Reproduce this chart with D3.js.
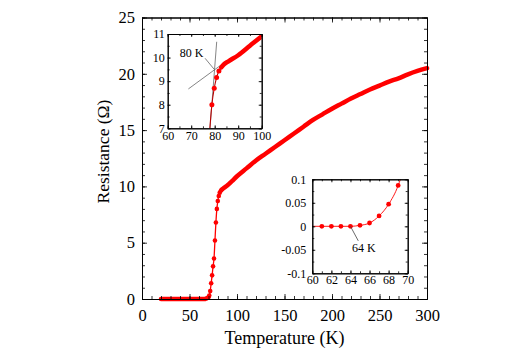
<!DOCTYPE html>
<html>
<head>
<meta charset="utf-8">
<script src="https://cdn.jsdelivr.net/npm/d3@7"></script>
<style>
  body { margin: 0; background: #fff; }
  svg text { font-family: "Liberation Serif", "Times New Roman", serif; fill: #000; }
</style>
</head>
<body>
<div id="viz"></div>
<script>
// R(T) data
var tempK = [20, 30, 40, 50, 58, 61, 62, 63, 64, 65, 66, 67, 68, 69, 70,
  70.8, 71.8, 72.8, 73.8, 74.8, 75.8, 76.8, 77.8, 78.8, 79.8, 80.8, 81.8, 82.8,
  83.8, 86, 90, 95, 100, 110, 120, 130, 140, 150, 160, 170, 180, 190, 200,
  210, 220, 230, 240, 250, 260, 270, 280, 290, 300];
var resOhm = [0, 0, 0, 0, 0, 0, 0, 0, 0, 0.002, 0.007, 0.022, 0.047, 0.087, 0.16,
  0.3, 0.7, 1.4, 2.1, 2.9, 3.6, 5.2, 6.8, 8.0, 8.7, 9.15, 9.43, 9.58,
  9.7, 9.85, 10.1, 10.5, 10.9, 11.6, 12.3, 12.9, 13.5, 14.1, 14.7, 15.3, 15.9, 16.4, 16.9,
  17.35, 17.8, 18.2, 18.6, 18.95, 19.3, 19.6, 19.95, 20.25, 20.5];

// tick labels
var mainXTicks = [0, 50, 100, 150, 200, 250, 300];
var mainYTicks = [0, 5, 10, 15, 20, 25];
var in1XTicks = [60, 70, 80, 90, 100];
var in1YTicks = [7, 8, 9, 10, 11];
var in2XTicks = [60, 62, 64, 66, 68, 70];
var in2YTicks = [-0.1, -0.05, 0, 0.05, 0.1];

// construction lines on the insets (data units)
var steepFit = [[78.0, 7], [80.85, 10.67]];
var normalFit = [[68.8, 8.67], [84, 9.78]];
var pointer80 = [[75.9, 9.97], [79.8, 9.5]];
var pointer64 = [[64, 0], [64.82, -0.031]];

var pts = tempK.map((t, i) => ({t: t, r: resOhm[i]}));
var bandLow = pts.filter(d => d.t <= 68);
var bandHigh = pts.filter(d => d.t >= 82.8);
var trans = pts.filter(d => d.t > 68 && d.t < 82.8);

var svg = d3.select('#viz').append('svg')
  .attr('width', 532).attr('height', 355);
svg.append('rect').attr('width', 532).attr('height', 355).attr('fill', '#fff');

function range(a, b, s) {
  var out = [];
  for (var v = a; v <= b + s / 1000; v += s) out.push(+v.toFixed(4));
  return out;
}

// frame with inward ticks on all four sides
function frame(g, x, y, o) {
  var w = x.range()[1] - x.range()[0];
  var h = y.range()[0] - y.range()[1];
  g.append('g').attr('transform', 'translate(0,' + h + ')')
    .call(d3.axisBottom(x).tickValues(o.xm).tickSize(-o.small).tickSizeOuter(0).tickFormat(''));
  g.append('g').attr('transform', 'translate(0,0)')
    .call(d3.axisTop(x).tickValues(o.xm).tickSize(-o.small).tickSizeOuter(0).tickFormat(''));
  g.append('g').call(d3.axisLeft(y).tickValues(o.ym).tickSize(-o.small).tickSizeOuter(0).tickFormat(''));
  g.append('g').attr('transform', 'translate(' + w + ',0)')
    .call(d3.axisRight(y).tickValues(o.ym).tickSize(-o.small).tickSizeOuter(0).tickFormat(''));

  var xb = g.append('g').attr('transform', 'translate(0,' + h + ')')
    .call(d3.axisBottom(x).tickValues(o.xt).tickSize(-o.big).tickSizeOuter(0).tickPadding(o.padX).tickFormat(d => String(d)));
  g.append('g')
    .call(d3.axisTop(x).tickValues(o.xt).tickSize(-o.big).tickSizeOuter(0).tickFormat(''));
  var yl = g.append('g')
    .call(d3.axisLeft(y).tickValues(o.yt).tickSize(-o.big).tickSizeOuter(0).tickPadding(o.padY).tickFormat(d => String(d)));
  g.append('g').attr('transform', 'translate(' + w + ',0)')
    .call(d3.axisRight(y).tickValues(o.yt).tickSize(-o.big).tickSizeOuter(0).tickFormat(''));

  [xb, yl].forEach(a => a.selectAll('text')
    .style('font-family', '"Liberation Serif", serif')
    .style('font-size', o.fs + 'px').attr('fill', '#000'));
  g.selectAll('.domain').attr('stroke', '#000').attr('stroke-width', 1);
  g.selectAll('.tick line').attr('stroke', '#000').attr('stroke-width', 0.8);
}

function clip(id, w, h) {
  svg.append('clipPath').attr('id', id).append('rect').attr('width', w).attr('height', h);
}

// ---------- main plot ----------
var M = {left: 142, top: 17.5, w: 285, h: 281.5};
var x = d3.scaleLinear().domain([0, 300]).range([0, M.w]);
var y = d3.scaleLinear().domain([0, 25]).range([M.h, 0]);
var main = svg.append('g').attr('transform', 'translate(' + M.left + ',' + M.top + ')');

var lineMain = d3.line().x(d => x(d.t)).y(d => y(d.r)).curve(d3.curveMonotoneX);

main.append('path').datum(pts).attr('d', lineMain)
  .attr('fill', 'none').attr('stroke', '#f00').attr('stroke-width', 1.3);
[bandLow, bandHigh].forEach(seg => main.append('path').datum(seg).attr('d', lineMain)
  .attr('fill', 'none').attr('stroke', '#f00').attr('stroke-width', 4.5).attr('stroke-linecap', 'round'));
main.selectAll('circle.tr').data(trans).enter().append('circle')
  .attr('cx', d => x(d.t)).attr('cy', d => y(d.r)).attr('r', 2.3).attr('fill', '#f00');

frame(main, x, y, {xt: mainXTicks, xm: range(0, 300, 10), yt: mainYTicks, ym: range(0, 25, 1),
  big: 5, small: 3, padX: 10, padY: 7, fs: 16.5});

main.append('text').attr('x', M.w / 2).attr('y', 343.5 - M.top)
  .attr('text-anchor', 'middle').style('font-size', '18px').text('Temperature (K)');
svg.append('text').attr('transform', 'translate(109,151.5) rotate(-90)')
  .attr('text-anchor', 'middle').style('font-size', '17.5px').text('Resistance (Ω)');

// ---------- inset 1 : onset near 80 K ----------
var I1 = {left: 167.7, top: 34, w: 94, h: 94.3};
var x1 = d3.scaleLinear().domain([60, 100]).range([0, I1.w]);
var y1 = d3.scaleLinear().domain([7, 11]).range([I1.h, 0]);
var in1 = svg.append('g').attr('transform', 'translate(' + I1.left + ',' + I1.top + ')');
in1.append('rect').attr('width', I1.w).attr('height', I1.h).attr('fill', '#fff');
clip('c1', I1.w, I1.h);
var body1 = in1.append('g').attr('clip-path', 'url(#c1)');
var lineXY1 = d3.line().x(d => x1(d[0])).y(d => y1(d[1]));
[steepFit, normalFit, pointer80].forEach(l => body1.append('path').datum(l).attr('d', lineXY1)
  .attr('stroke', '#666').attr('stroke-width', 0.8).attr('fill', 'none'));
var line1 = d3.line().x(d => x1(d.t)).y(d => y1(d.r)).curve(d3.curveMonotoneX);
body1.append('path').datum(pts).attr('d', line1)
  .attr('fill', 'none').attr('stroke', '#b00').attr('stroke-width', 1.1);
body1.append('path').datum(bandHigh).attr('d', line1)
  .attr('fill', 'none').attr('stroke', '#f00').attr('stroke-width', 4.5).attr('stroke-linecap', 'round');
body1.selectAll('circle').data(trans.filter(d => d.t >= 78)).enter().append('circle')
  .attr('cx', d => x1(d.t)).attr('cy', d => y1(d.r)).attr('r', 2.5).attr('fill', '#f00');
in1.append('text').attr('x', x1(70.2)).attr('y', y1(10.04))
  .attr('text-anchor', 'middle').style('font-size', '12px').text('80 K');
frame(in1, x1, y1, {xt: in1XTicks, xm: range(60, 100, 5), yt: in1YTicks, ym: range(7, 11, 0.5),
  big: 3, small: 2, padX: 3, padY: 3, fs: 12});

// ---------- inset 2 : zero resistance near 64 K ----------
var I2 = {left: 312.3, top: 179.3, w: 95.4, h: 94};
var x2 = d3.scaleLinear().domain([60, 70]).range([0, I2.w]);
var y2 = d3.scaleLinear().domain([-0.1, 0.1]).range([I2.h, 0]);
var in2 = svg.append('g').attr('transform', 'translate(' + I2.left + ',' + I2.top + ')');
in2.append('rect').attr('width', I2.w).attr('height', I2.h).attr('fill', '#fff');
clip('c2', I2.w, I2.h);
var body2 = in2.append('g').attr('clip-path', 'url(#c2)');
var line2 = d3.line().x(d => x2(d.t)).y(d => y2(d.r)).curve(d3.curveMonotoneX);
body2.append('path').datum(pts.filter(d => d.t <= 72)).attr('d', line2)
  .attr('fill', 'none').attr('stroke', '#f00').attr('stroke-width', 0.9);
body2.selectAll('circle').data(pts.filter(d => d.t > 60 && d.t < 70)).enter().append('circle')
  .attr('cx', d => x2(d.t)).attr('cy', d => y2(d.r)).attr('r', 2.4).attr('fill', '#f00');
body2.append('path').datum(pointer64)
  .attr('d', d3.line().x(d => x2(d[0])).y(d => y2(d[1])))
  .attr('stroke', '#444').attr('stroke-width', 0.8).attr('fill', 'none');
in2.append('text').attr('x', x2(65.4)).attr('y', y2(-0.054))
  .attr('text-anchor', 'middle').style('font-size', '12px').text('64 K');
frame(in2, x2, y2, {xt: in2XTicks, xm: range(60, 70, 1), yt: in2YTicks, ym: range(-0.1, 0.1, 0.025),
  big: 3, small: 2, padX: 2.5, padY: 6, fs: 12});
</script>
</body>
</html>
